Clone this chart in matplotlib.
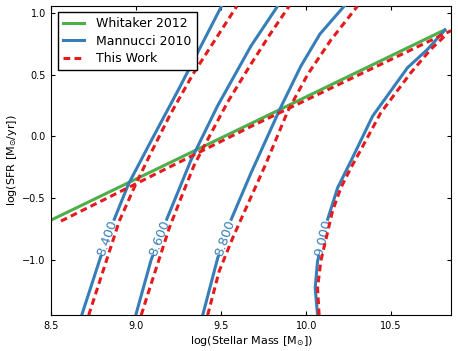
import numpy as np
import matplotlib
matplotlib.use("Agg")
import matplotlib.pyplot as plt

# metallicity levels (12+log(O/H)) of the contours
levels = ["8.400", "8.600", "8.800", "9.000"]

# Mannucci 2010 contours (log M*, log SFR)
mannucci_x = [
    [8.679, 8.792, 8.871, 8.955, 9.086, 9.257, 9.502],
    [8.997, 9.087, 9.175, 9.322, 9.479, 9.675, 9.832],
    [9.391, 9.479, 9.557, 9.675, 9.851, 9.969, 10.081, 10.224],
    [10.067, 10.053, 10.067, 10.126, 10.185, 10.263, 10.391, 10.596, 10.714, 10.816],
]
mannucci_y = [
    [-1.446, -0.968, -0.669, -0.383, -0.040, 0.401, 1.054],
    [-1.446, -1.001, -0.685, -0.192, 0.248, 0.731, 1.054],
    [-1.446, -0.985, -0.677, -0.297, 0.237, 0.569, 0.828, 1.054],
    [-1.446, -1.225, -1.009, -0.672, -0.416, -0.200, 0.164, 0.555, 0.704, 0.860],
]

# This Work contours
work_x = [
    [8.720, 8.900, 8.998, 9.086, 9.198, 9.334, 9.592],
    [9.029, 9.087, 9.194, 9.263, 9.341, 9.400, 9.538, 9.675, 9.792, 9.900],
    [9.420, 9.488, 9.567, 9.675, 9.757, 9.892, 10.010, 10.145, 10.302],
    [10.076, 10.067, 10.086, 10.155, 10.204, 10.263, 10.312, 10.439, 10.616, 10.733, 10.822],
]
work_y = [
    [-1.446, -0.685, -0.383, -0.135, 0.172, 0.504, 1.054],
    [-1.446, -1.195, -0.742, -0.499, -0.232, -0.078, 0.278, 0.585, 0.836, 1.054],
    [-1.446, -1.090, -0.823, -0.491, -0.240, 0.205, 0.504, 0.779, 1.054],
    [-1.446, -1.225, -1.009, -0.604, -0.416, -0.254, -0.133, 0.191, 0.515, 0.704, 0.820],
]

# main sequence lines
whitaker_x = [8.5, 10.816]
whitaker_y = [-0.676, 0.862]
fit_x = [8.557, 9.675, 10.853]
fit_y = [-0.685, 0.080, 0.855]

green = "#4daf4a"
blue = "#377eb8"
red = "#e41a1c"

label_y = -0.82
gap = 0.15

fig = plt.figure(figsize=(4.58, 3.51), dpi=100)
ax = fig.add_axes([0.112, 0.1017, 0.873, 0.881])
ax.set_xlim(8.5, 10.853)
ax.set_ylim(-1.447, 1.054)

ax.plot(whitaker_x, whitaker_y, color=green, lw=2.2, label="Whitaker 2012", zorder=2)

label_pos = []
for i, (xs, ys) in enumerate(zip(mannucci_x, mannucci_y)):
    xs = np.array(xs)
    ys = np.array(ys)
    lo, hi = label_y - gap, label_y + gap
    x_lo = np.interp(lo, ys, xs)
    x_hi = np.interp(hi, ys, xs)
    below = ys < lo
    above = ys > hi
    ax.plot(np.r_[xs[below], x_lo], np.r_[ys[below], lo], color=blue, lw=2.2,
            zorder=3, label="Mannucci 2010" if i == 0 else None)
    ax.plot(np.r_[x_hi, xs[above]], np.r_[hi, ys[above]], color=blue, lw=2.2, zorder=3)
    label_pos.append((np.interp(label_y, ys, xs), (x_lo, lo), (x_hi, hi)))

for i, (xs, ys) in enumerate(zip(work_x, work_y)):
    ax.plot(xs, ys, color=red, lw=2.2, dashes=(2.2, 1.4), zorder=4,
            label="This Work" if i == 0 else None)
ax.plot(fit_x, fit_y, color=red, lw=2.2, dashes=(2.2, 1.4), zorder=4)

# contour labels, rotated along the curve
fig.canvas.draw()
for lev, (xc, p0, p1) in zip(levels, label_pos):
    d0 = ax.transData.transform(p0)
    d1 = ax.transData.transform(p1)
    ang = np.degrees(np.arctan2(d1[1] - d0[1], d1[0] - d0[0]))
    ax.text(xc, label_y, lev, color=blue, fontsize=9.5, rotation=ang,
            rotation_mode="anchor", ha="center", va="center")

ax.set_xticks([8.5, 9.0, 9.5, 10.0, 10.5])
ax.set_yticks([-1.0, -0.5, 0.0, 0.5, 1.0])
ax.tick_params(direction="in", top=True, right=True, length=3, width=0.8,
               labelsize=7, pad=4)
ax.set_xlabel(r"log(Stellar Mass [M$_{\odot}$])", fontsize=8, labelpad=2)
ax.set_ylabel(r"log(SFR [M$_{\odot}$/yr])", fontsize=8, labelpad=2)

leg = ax.legend(loc="upper left", fontsize=9, handlelength=1.7,
                handletextpad=1.0, labelspacing=0.35, fancybox=False,
                framealpha=1, borderaxespad=0.5)
leg.get_frame().set_edgecolor("black")
leg.get_frame().set_linewidth(1.0)

fig.savefig("out.png", dpi=100)
